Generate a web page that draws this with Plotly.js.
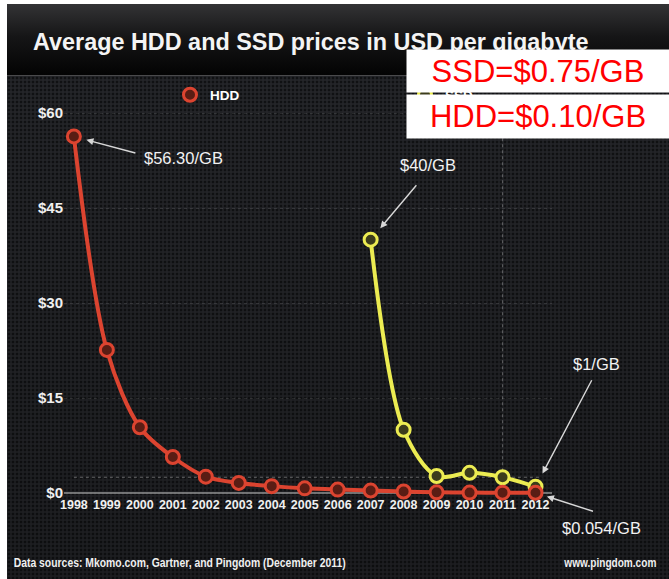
<!DOCTYPE html>
<html>
<head>
<meta charset="utf-8">
<script src="https://cdn.plot.ly/plotly-3.0.1.min.js"></script>
<style>
  html, body { margin: 0; padding: 0; background: #ffffff; overflow: hidden; }
  #wrap { position: relative; width: 669px; height: 579px; }
  #bg { position: absolute; left: 7px; top: 4px; right: 0; bottom: 0;
        background-color: #26272b;
        background-image: radial-gradient(circle, #111214 0, #111214 1.1px, rgba(0,0,0,0) 1.7px);
        background-size: 4px 4px; }
  #shade { position: absolute; left: 7px; top: 76px; right: 0; bottom: 0;
        background: linear-gradient(to bottom, rgba(0,0,0,0.05), rgba(0,0,0,0.25)); }
  #hdr { position: absolute; left: 7px; top: 4px; right: 0; height: 71px;
        background: linear-gradient(to bottom, #333335 0%, #161617 45%, #030303 100%); }
  #hline { position: absolute; left: 7px; top: 75px; right: 0; height: 1px; background: #4a4a4c; }
  #chart { position: absolute; left: 0; top: 0; width: 669px; height: 579px; }
</style>
</head>
<body>
<div id="wrap">
  <div id="bg"></div>
  <div id="shade"></div>
  <div id="hdr"></div>
  <div id="hline"></div>
  <div id="chart"></div>
</div>
<script>
// ---- data ----
const hddYears = [1998, 1999, 2000, 2001, 2002, 2003, 2004, 2005, 2006, 2007, 2008, 2009, 2010, 2011, 2012];
const hddPrice = [56.30, 22.6, 10.4, 5.7, 2.6, 1.6, 1.1, 0.75, 0.55, 0.4, 0.25, 0.12, 0.08, 0.07, 0.054];
const ssdYears = [2007, 2008, 2009, 2010, 2011, 2012];
const ssdPrice = [40, 10, 2.7, 3.2, 2.5, 1.0];
const xTickVals = [1998, 1999, 2000, 2001, 2002, 2003, 2004, 2005, 2006, 2007, 2008, 2009, 2010, 2011, 2012];
const yTickVals = [0, 15, 30, 45, 60];
const yTickText = ['$0', '$15', '$30', '$45', '$60'];
const seriesNames = ['HDD', 'SSD'];
const titleText = 'Average HDD and SSD prices in USD per gigabyte';
const ssdNow = 'SSD=$0.75/GB';
const hddNow = 'HDD=$0.10/GB';
const callouts = ['$56.30/GB', '$40/GB', '$1/GB', '$0.054/GB'];
const sourceText = 'Data sources: Mkomo.com, Gartner, and Pingdom (December 2011)';
const siteText = 'www.pingdom.com';

// ---- geometry ----
const W = 669, H = 579;
const M = {l: 64, r: 117, t: 94, b: 84};
const PW = W - M.l - M.r, PH = H - M.t - M.b;
const px2x = px => (px - M.l) / PW;
const px2y = py => (H - M.b - py) / PH;

const FONT = '"Liberation Sans", Arial, Helvetica, sans-serif';
const RED = '#dc4430', YEL = '#ecec52';
const redMarker = {symbol: 'circle', size: 13, color: '#5a1d14', line: {color: RED, width: 3}};
const yelMarker = {symbol: 'circle', size: 13, color: '#3c3c1c', line: {color: YEL, width: 3}};

const traces = [
  {
    x: ssdYears, y: ssdPrice, name: seriesNames[1], type: 'scatter', mode: 'lines+markers',
    line: {color: YEL, width: 4, shape: 'spline', smoothing: 0.9},
    marker: yelMarker, cliponaxis: false, showlegend: false, hoverinfo: 'skip'
  },
  {
    x: hddYears, y: hddPrice, name: seriesNames[0], type: 'scatter', mode: 'lines+markers',
    line: {color: RED, width: 4, shape: 'spline', smoothing: 0.9},
    marker: redMarker, cliponaxis: false, showlegend: false, hoverinfo: 'skip'
  },
  // legend entries (marker only, as in the reference)
  {x: [null], y: [null], name: seriesNames[0], type: 'scatter', mode: 'markers',
   marker: redMarker, legendrank: 1, hoverinfo: 'skip'},
  {x: [null], y: [null], name: seriesNames[1], type: 'scatter', mode: 'markers',
   marker: yelMarker, legendrank: 2, hoverinfo: 'skip'}
];

function arrow(x, y, ax, ay, standoff) {
  return {x: x, y: y, xref: 'x', yref: 'y', ax: ax, ay: ay, axref: 'pixel', ayref: 'pixel',
          text: '', showarrow: true, arrowhead: 2, arrowsize: 1, arrowwidth: 1.4,
          arrowcolor: '#d8d8d8', standoff: standoff, font: {size: 1}};
}
function label(x, y, txt, xs, ys) {
  return {x: x, y: y, xref: 'x', yref: 'y', text: txt, showarrow: false, xshift: xs, yshift: ys,
          xanchor: 'center', yanchor: 'middle',
          font: {family: FONT, size: 16.5, color: '#f2f2f2'}};
}

// footer texts are condensed in the reference: target widths in px
const footerWidths = {source: 332, site: 92};

const annotations = [
  arrow(hddYears[0], hddPrice[0], 63, 17, 13),
  label(hddYears[0], hddPrice[0], callouts[0], 110, -22),
  arrow(ssdYears[0], ssdPrice[0], 47, -56, 15),
  label(ssdYears[0], ssdPrice[0], callouts[1], 57, 75),
  arrow(ssdYears[5], ssdPrice[5], 57, -108, 15),
  label(ssdYears[5], ssdPrice[5], callouts[2], 61, 123),
  arrow(hddYears[14], hddPrice[14], 59, 19, 12),
  label(hddYears[14], hddPrice[14], callouts[3], 66, -35),
  {xref: 'paper', yref: 'paper', x: px2x(13 + footerWidths.source / 2), y: px2y(562),
   xanchor: 'center', yanchor: 'middle', text: sourceText, showarrow: false,
   font: {family: FONT, size: 13.5, color: '#f0f0f0', weight: 'bold'}},
  {xref: 'paper', yref: 'paper', x: px2x(656 - footerWidths.site / 2), y: px2y(562),
   xanchor: 'center', yanchor: 'middle', text: siteText, showarrow: false,
   font: {family: FONT, size: 13, color: '#f0f0f0', weight: 'bold'}},
  {xref: 'paper', yref: 'paper', x: px2x(538), y: px2y(71), xanchor: 'center', yanchor: 'middle',
   text: ssdNow, showarrow: false, bgcolor: '#ffffff', width: 262, height: 42, borderpad: 0,
   font: {family: FONT, size: 31, color: '#ff0000'}},
  {xref: 'paper', yref: 'paper', x: px2x(538), y: px2y(116.5), xanchor: 'center', yanchor: 'middle',
   text: hddNow, showarrow: false, bgcolor: '#ffffff', width: 262, height: 43, borderpad: 0,
   font: {family: FONT, size: 31, color: '#ff0000'}}
];

const shapes = [
  {type: 'line', xref: 'x', yref: 'y', x0: 1998, x1: 2012.2, y0: 2.5, y1: 2.5,
   line: {color: 'rgba(200,200,200,0.45)', width: 1.2, dash: 'dot'}, layer: 'below'},
  {type: 'line', xref: 'x', yref: 'y', x0: 2011, x1: 2011, y0: 2.5, y1: 58,
   line: {color: 'rgba(200,200,200,0.35)', width: 1.2, dash: 'dot'}, layer: 'below'}
];

const layout = {
  width: W, height: H,
  margin: M,
  paper_bgcolor: 'rgba(0,0,0,0)',
  plot_bgcolor: 'rgba(0,0,0,0)',
  title: {text: titleText, xref: 'container', yref: 'container', x: 33 / W, xanchor: 'left',
          y: 1 - 42 / H, yanchor: 'middle',
          font: {family: FONT, size: 23.4, color: '#f4f4f4', weight: 'bold'}},
  showlegend: true,
  legend: {orientation: 'h', x: px2x(170), y: px2y(95), xanchor: 'left', yanchor: 'middle',
           bgcolor: 'rgba(0,0,0,0)', borderwidth: 0, entrywidth: 190, entrywidthmode: 'pixels',
           font: {family: FONT, size: 13.5, color: '#ffffff', weight: 'bold'}},
  xaxis: {range: [1997.7, 2012.5], tickvals: xTickVals, ticks: '', showgrid: false, zeroline: false,
          showline: false, tickfont: {family: FONT, size: 12.5, color: '#f0f0f0', weight: 'bold'},
          fixedrange: true},
  yaxis: {range: [-0.3, 63], tickvals: yTickVals, ticktext: yTickText, ticks: '',
          showgrid: true, gridcolor: 'rgba(255,255,255,0.10)', griddash: 'dot', gridwidth: 1,
          zeroline: true, zerolinecolor: 'rgba(190,190,190,0.55)', zerolinewidth: 1.5,
          showline: false, tickfont: {family: FONT, size: 15, color: '#f0f0f0', weight: 'bold'},
          fixedrange: true},
  annotations: annotations,
  shapes: shapes,
  hovermode: false
};

Plotly.newPlot('chart', traces, layout, {displayModeBar: false, staticPlot: true}).then(gd => {
  // condense the two footer texts horizontally, like the reference
  gd.querySelectorAll('.annotation-text').forEach(t => {
    const s = t.textContent;
    let w = null;
    if (s === sourceText) w = footerWidths.source;
    else if (s === siteText) w = footerWidths.site;
    if (w) {
      t.setAttribute('textLength', w);
      t.setAttribute('lengthAdjust', 'spacingAndGlyphs');
    }
  });
});
</script>
</body>
</html>
